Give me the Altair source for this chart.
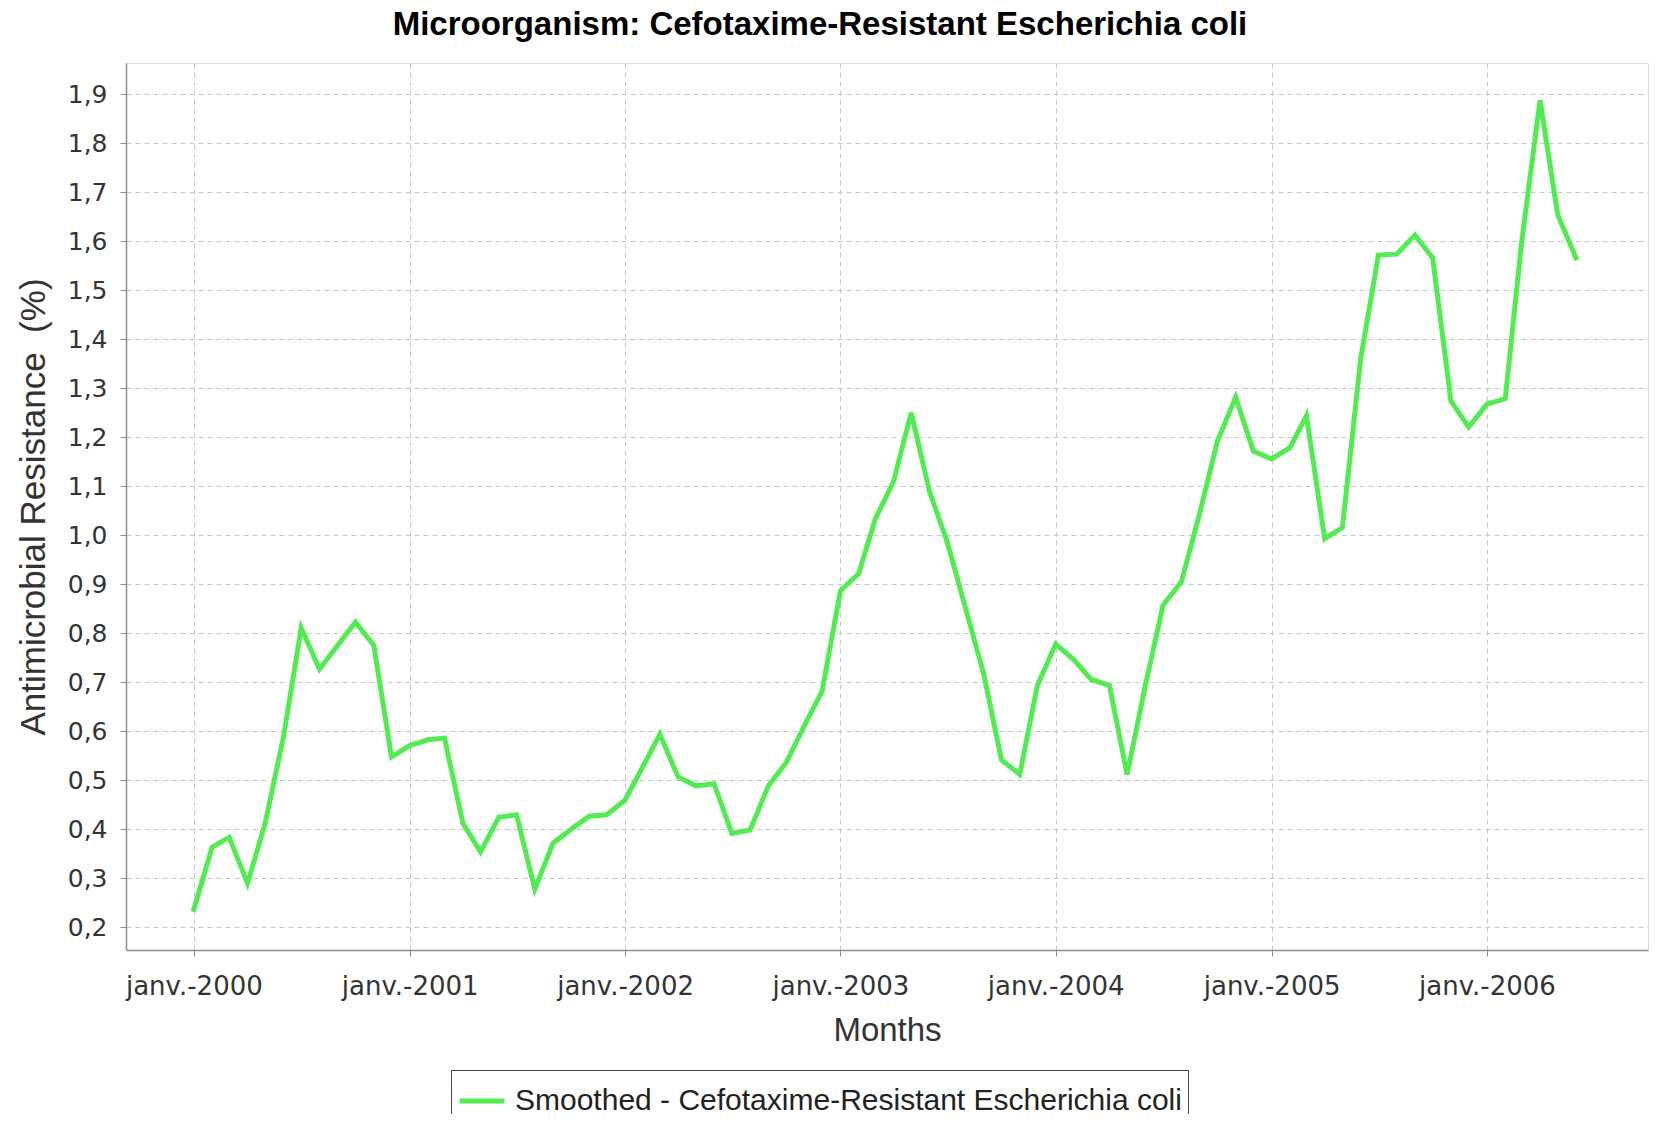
import altair as alt
import pandas as pd

# ---- data ----
series_name = "Smoothed - Cefotaxime-Resistant Escherichia coli"
first_month = "2000-01-01"
resistance = [
    0.237, 0.364, 0.384, 0.290, 0.413, 0.589, 0.811, 0.727, 0.776, 0.823, 0.776, 0.548,   # 2000
    0.571, 0.583, 0.586, 0.413, 0.354, 0.425, 0.430, 0.278, 0.372, 0.400, 0.427, 0.430,   # 2001
    0.460, 0.530, 0.594, 0.507, 0.489, 0.493, 0.392, 0.399, 0.489, 0.536, 0.612, 0.682,   # 2002
    0.887, 0.922, 1.033, 1.110, 1.250, 1.090, 0.987, 0.852, 0.717, 0.542, 0.512, 0.694,   # 2003
    0.778, 0.746, 0.706, 0.694, 0.512, 0.694, 0.858, 0.905, 1.045, 1.192, 1.282, 1.172,   # 2004
    1.156, 1.179, 1.244, 0.993, 1.016, 1.361, 1.572, 1.574, 1.613, 1.566, 1.274, 1.221,   # 2005
    1.268, 1.279, 1.600, 1.888, 1.654, 1.566,                                             # 2006
]
months = pd.date_range(first_month, periods=len(resistance), freq="MS").strftime("%Y-%m-%d").tolist()
x_tick_years = [2000, 2001, 2002, 2003, 2004, 2005, 2006]
y_ticks = [0.2, 0.3, 0.4, 0.5, 0.6, 0.7, 0.8, 0.9, 1.0, 1.1, 1.2, 1.3, 1.4, 1.5, 1.6, 1.7, 1.8, 1.9]

df = pd.DataFrame({"month": months, "value": resistance, "series": series_name})

GREEN = "#52ec52"
AXIS_GRAY = "#8c8c8c"
TEXT = "#333333"

x_axis = alt.Axis(
    values=[alt.DateTime(year=y, month=1, date=1, utc=True) for y in x_tick_years],
    labelExpr="'janv.-' + utcFormat(datum.value, '%Y')",
    title="Months",
    titleFont="Liberation Sans", titleFontSize=33, titleFontWeight="normal", titleColor=TEXT,
    titlePadding=15,
    labelFont="DejaVu Sans", labelFontSize=26, labelColor=TEXT, labelPadding=17,
    labelFlush=False, labelOverlap=False,
    tickSize=6, tickColor=AXIS_GRAY, domainColor=AXIS_GRAY, domainWidth=1.5,
    grid=True, gridColor="#c8c8c8", gridDash=[5, 4], gridWidth=1,
)

y_axis = alt.Axis(
    values=y_ticks,
    labelExpr="replace(format(datum.value, '.1f'), '.', ',')",
    title="Antimicrobial Resistance \u00a0(%)",
    titleFont="Liberation Sans", titleFontSize=35, titleFontWeight="normal", titleColor=TEXT,
    titlePadding=16,
    labelFont="DejaVu Sans", labelFontSize=25, labelColor=TEXT, labelPadding=13,
    labelOverlap=False, labelFlush=False,
    tickSize=6, tickColor=AXIS_GRAY, domainColor=AXIS_GRAY, domainWidth=1.5,
    grid=True, gridColor="#c8c8c8", gridDash=[5, 4], gridWidth=1,
)

chart = alt.Chart(df).mark_line(strokeWidth=5, strokeJoin="miter", strokeCap="square").encode(
    x=alt.X(
        "month:T",
        scale=alt.Scale(
            type="utc",
            domain=[alt.DateTime(year=1999, month=9, date=8, utc=True),
                    alt.DateTime(year=2006, month=10, date=1, utc=True)],
            nice=False,
        ),
        axis=x_axis,
    ),
    y=alt.Y(
        "value:Q",
        scale=alt.Scale(domain=[0.154, 1.964], nice=False, zero=False),
        axis=y_axis,
    ),
    color=alt.Color(
        "series:N",
        scale=alt.Scale(domain=[series_name], range=[GREEN]),
        legend=alt.Legend(
            title=None,
            orient="none", legendX=325, legendY=1007,
            symbolType="stroke", symbolSize=2025, symbolStrokeWidth=5,
            labelFont="Liberation Sans", labelFontSize=30, labelColor="#222222",
            labelLimit=2000, labelOffset=8,
            strokeColor="#444444", padding=6,
        ),
    ),
).properties(
    width=1522,
    height=887,
    autosize=alt.AutoSizeParams(type="none"),
    padding={"left": 118, "top": 55, "right": 8, "bottom": 164},
    title=alt.TitleParams(
        text="Microorganism: Cefotaxime-Resistant Escherichia coli",
        font="Liberation Sans", fontSize=33, fontWeight="bold", color="black",
        anchor="middle", frame="group", dx=-67, offset=-5, baseline="alphabetic",
    ),
).configure_view(
    stroke=AXIS_GRAY, strokeWidth=1.5, fill="white",
).configure_legend(
    strokeWidth=2,
).configure(
    background="white",
)

chart.save("out.html", embed_options={"renderer": "svg", "actions": False})
